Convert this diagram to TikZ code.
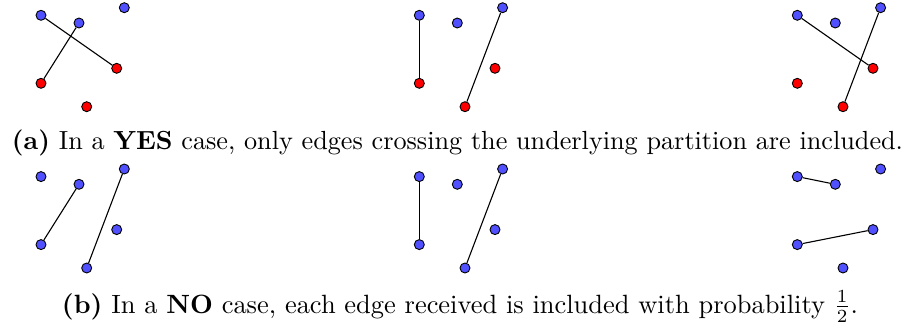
\documentclass[tikz,border=0pt]{standalone}
\usepackage{graphicx}
\definecolor{vblue}{RGB}{80,80,255}
\definecolor{vred}{RGB}{255,0,0}
\tikzset{
  vtx/.style={circle,draw=black,line width=0.9pt,inner sep=0pt,minimum size=10pt},
  edgeline/.style={draw=black,line width=1.1pt},
  captext/.style={anchor=base,inner sep=0pt}
}
\begin{document}
\begin{tikzpicture}[x=1pt,y=-1pt]
\useasboundingbox (0,0) rectangle (913,325);
\foreach \p/\dx/\dy/\lc in {1/0/0/vred,2/378.3/0/vred,3/756.3/0/vred,4/0/161.3/vblue,5/378.3/161.3/vblue,6/756.3/161.3/vblue}{
  \node[vtx,fill=vblue] (p\p A) at (41+\dx,15.3+\dy) {};
  \node[vtx,fill=vblue] (p\p B) at (79+\dx,23+\dy) {};
  \node[vtx,fill=vblue] (p\p C) at (124.3+\dx,7.7+\dy) {};
  \node[vtx,fill=\lc] (p\p D) at (116.7+\dx,68.3+\dy) {};
  \node[vtx,fill=\lc] (p\p E) at (41+\dx,83.3+\dy) {};
  \node[vtx,fill=\lc] (p\p F) at (86.7+\dx,106.7+\dy) {};
}
\draw[edgeline] (p1A) -- (p1D);
\draw[edgeline] (p1B) -- (p1E);
\draw[edgeline] (p2A) -- (p2E);
\draw[edgeline] (p2C) -- (p2F);
\draw[edgeline] (p3A) -- (p3D);
\draw[edgeline] (p3C) -- (p3F);
\draw[edgeline] (p4B) -- (p4E);
\draw[edgeline] (p4C) -- (p4F);
\draw[edgeline] (p5A) -- (p5E);
\draw[edgeline] (p5C) -- (p5F);
\draw[edgeline] (p6A) -- (p6B);
\draw[edgeline] (p6E) -- (p6D);
\node[captext] (capa) at (457.5,149) {\resizebox{891pt}{!}{\textbf{(a)} In a \textbf{YES} case, only edges crossing the underlying partition are included.}};
\node[captext] (capb) at (460,313) {\resizebox{796pt}{!}{\textbf{(b)} In a \textbf{NO} case, each edge received is included with probability $\frac{1}{2}$.}};
\end{tikzpicture}
\end{document}
